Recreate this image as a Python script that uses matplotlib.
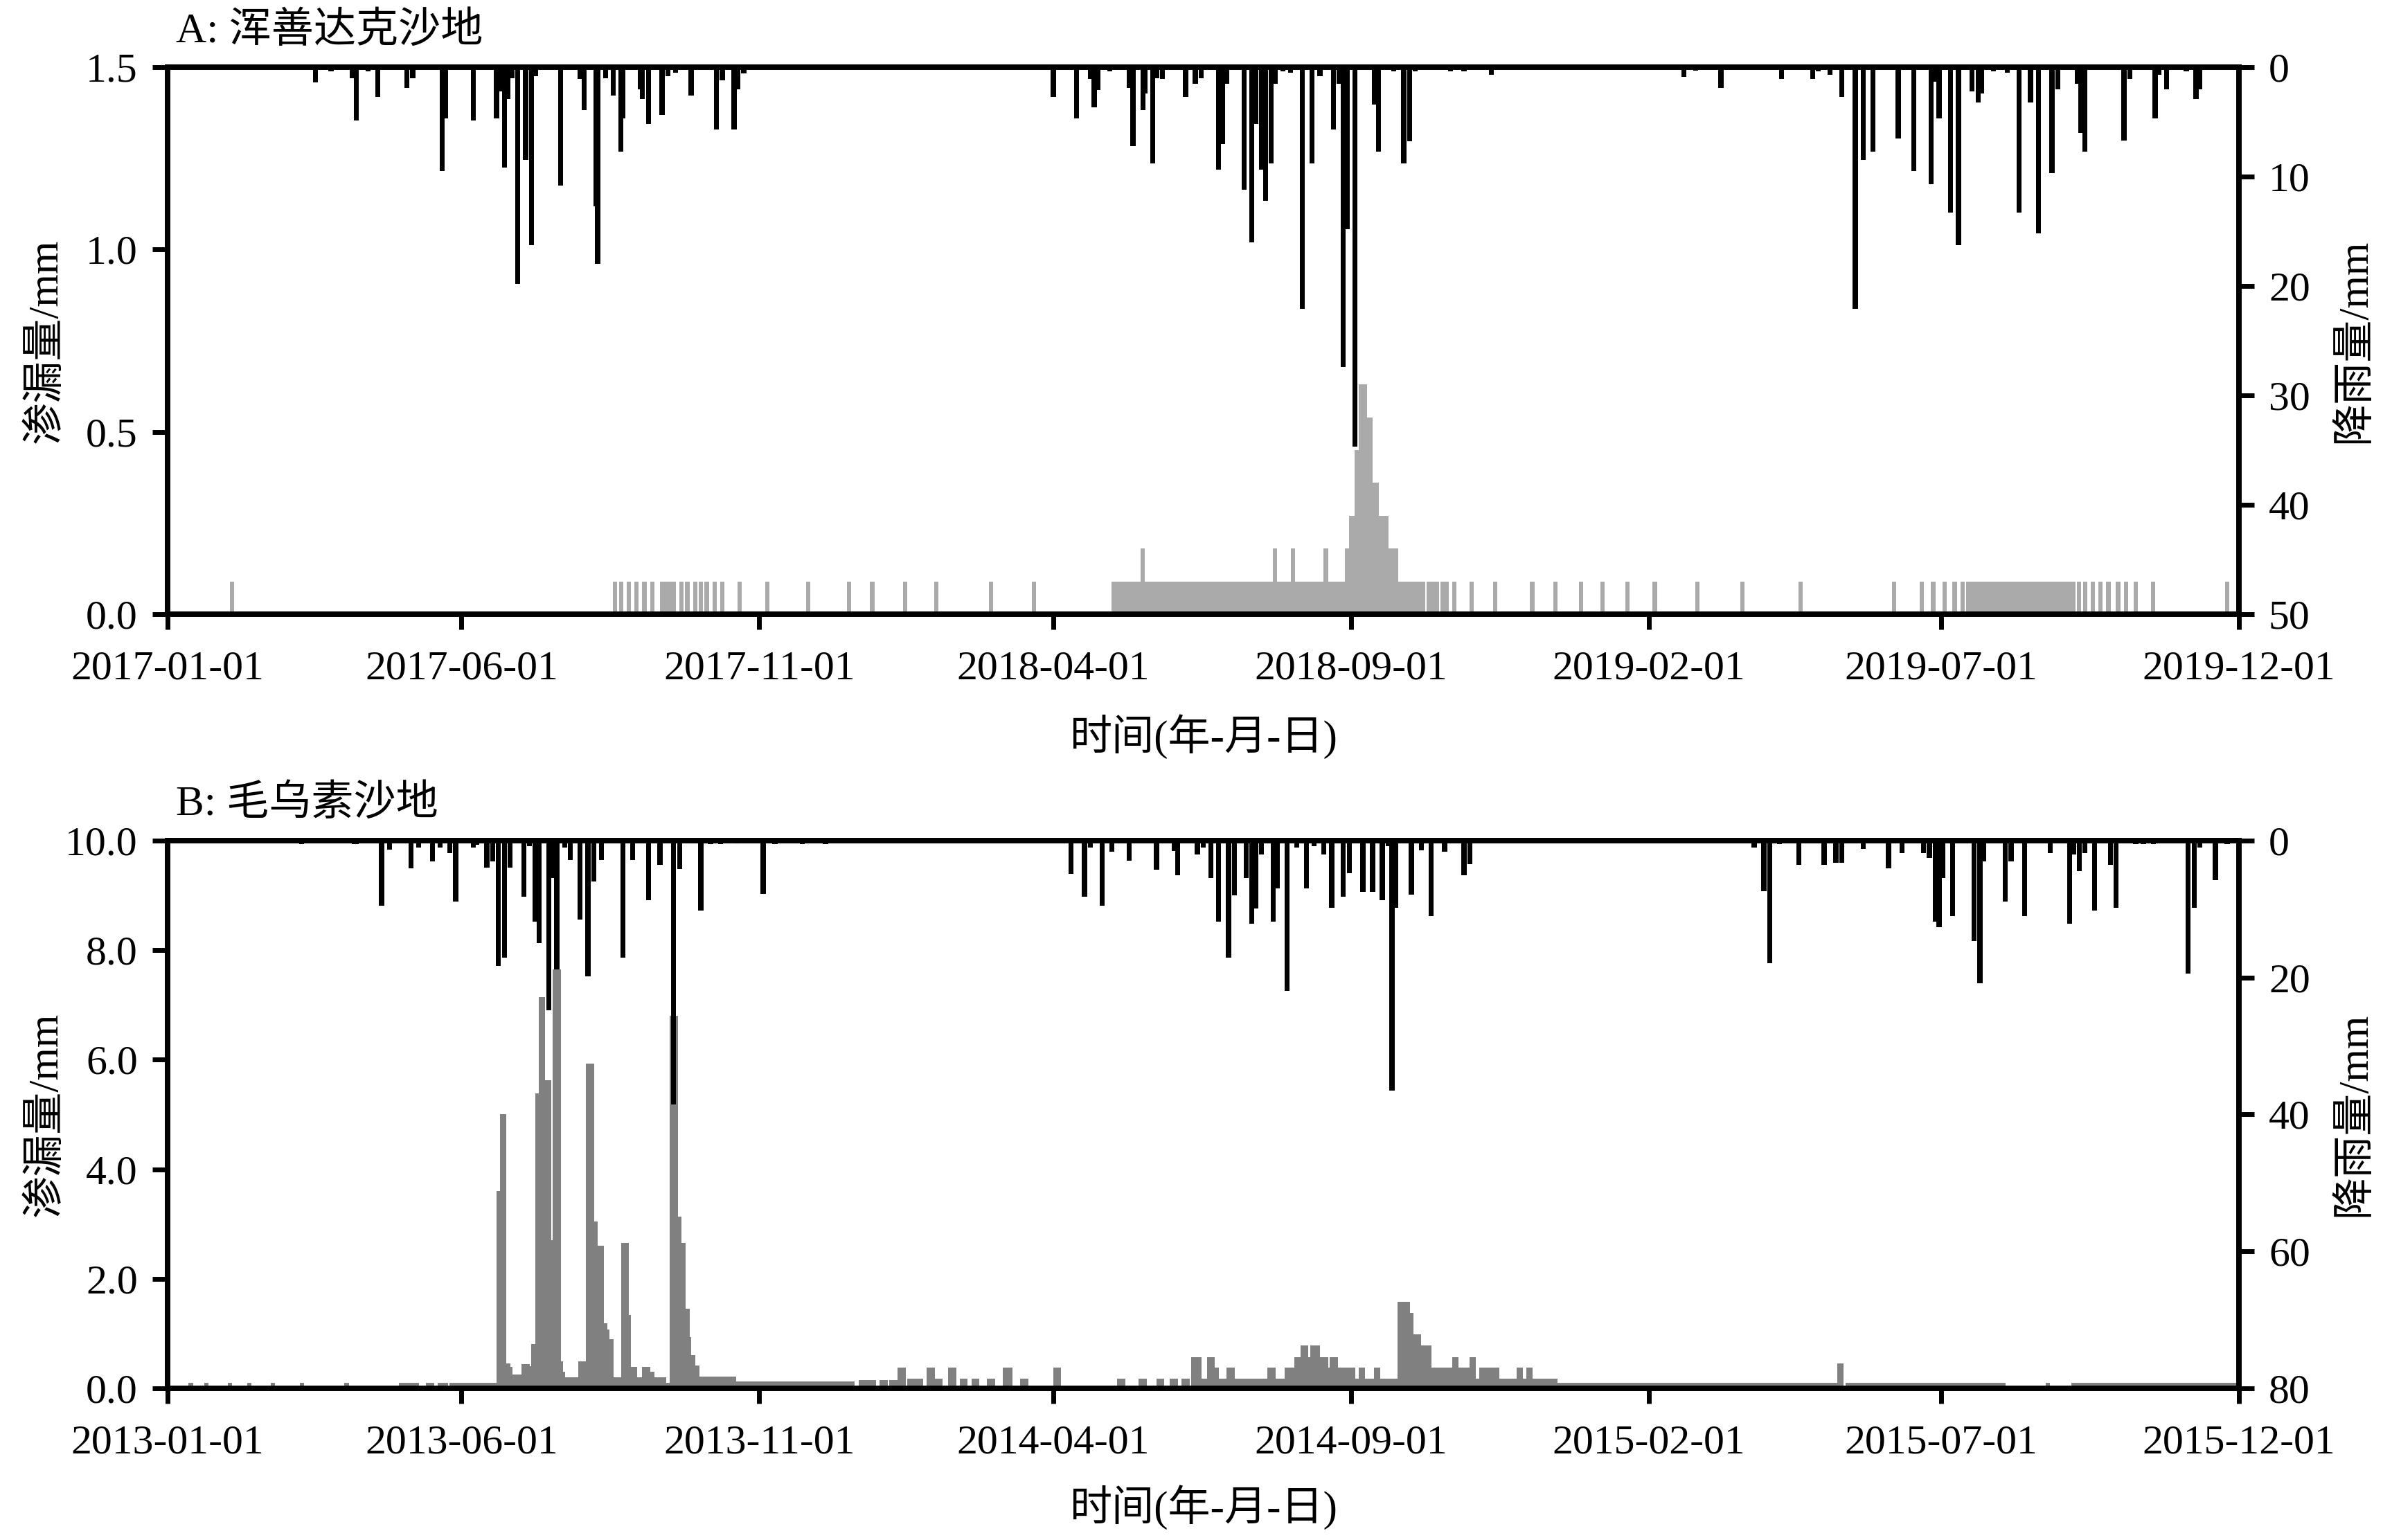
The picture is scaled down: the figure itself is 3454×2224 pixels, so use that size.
import matplotlib
matplotlib.use("Agg")
import matplotlib.pyplot as plt
import matplotlib.dates as mdates
import numpy as np

plt.rcParams['font.family'] = ['Liberation Serif', 'Noto Sans CJK SC']
plt.rcParams['axes.unicode_minus'] = False

FS_TICK = 43
FS_LABEL = 44

# ---- panel A: 浑善达克沙地, day offsets counted from 2017-01-01 ----
start_a = '2017-01-01'
xticks_a = ['2017-01-01', '2017-06-01', '2017-11-01', '2018-04-01',
            '2018-09-01', '2019-02-01', '2019-07-01', '2019-12-01']

# (day, rainfall mm)
rain_a = [
    (76, 1.4), (84, 0.4), (95, 1.0), (97, 4.9), (103, 0.4), (108, 2.7), (123, 1.9), (126, 1.0),
    (141, 9.5), (143, 4.7), (157, 4.9), (169, 4.7), (171, 2.2), (173, 9.2), (175, 2.9), (177, 1.0),
    (180, 19.8), (184, 8.5), (187, 16.3), (189, 0.8), (202, 10.8), (212, 1.1), (214, 3.9),
    (220, 12.7), (221, 18.0), (225, 1.0), (229, 2.6), (233, 7.7), (234, 4.7), (243, 2.0),
    (244, 2.9), (247, 5.2), (254, 4.4), (257, 0.8), (261, 0.5), (269, 2.6), (282, 5.7),
    (285, 1.2), (291, 5.7), (293, 2.0), (296, 0.6),
    (455, 2.7), (467, 4.7), (474, 1.1), (476, 3.7), (478, 2.1), (484, 0.4), (494, 1.9),
    (496, 7.2), (501, 3.9), (502, 2.4), (506, 8.8), (508, 1.0), (511, 1.1), (523, 2.7),
    (528, 1.5), (531, 1.0), (540, 9.4), (542, 7.0), (544, 1.5), (553, 11.2), (557, 16.0),
    (559, 5.2), (562, 9.4), (564, 12.2), (567, 8.8), (569, 1.5), (573, 0.4), (577, 0.5),
    (583, 22.1), (588, 8.8), (592, 0.8), (599, 5.7), (602, 1.5), (604, 27.4), (606, 14.8),
    (610, 34.7), (620, 3.4), (622, 7.7), (630, 0.4), (635, 8.8), (638, 6.8), (641, 0.4),
    (659, 0.4), (666, 0.4), (680, 0.7),
    (779, 0.9), (785, 0.3), (798, 1.9), (829, 1.1), (845, 1.1), (848, 0.4), (854, 0.7),
    (860, 2.7), (867, 22.1), (871, 8.5), (876, 7.7), (889, 6.5), (897, 9.5), (906, 10.7),
    (908, 1.3), (910, 4.7), (916, 13.3), (920, 16.3), (927, 2.2), (930, 3.2), (932, 2.4),
    (938, 0.4), (945, 0.5), (951, 13.3), (957, 3.2), (961, 15.2), (968, 9.7), (971, 2.0),
    (981, 1.5), (983, 6.0), (985, 7.7), (1005, 6.7), (1008, 1.1), (1021, 4.7), (1023, 0.7),
    (1027, 2.0), (1037, 0.4), (1042, 2.9), (1044, 2.0),
]

# (first day, last day, percolation mm)
perc_a = [
    (33, 33, .09), (230, 230, .09), (233, 233, .09), (237, 237, .09), (241, 241, .09),
    (245, 245, .09), (249, 249, .09), (254, 260, .09), (264, 264, .09), (267, 267, .09),
    (271, 271, .09), (274, 274, .09), (277, 277, .09), (281, 281, .09), (285, 285, .09),
    (294, 294, .09), (308, 308, .09), (329, 329, .09), (350, 350, .09), (362, 362, .09),
    (379, 379, .09), (395, 395, .09), (423, 423, .09), (445, 445, .09),
    (486, 500, .09), (501, 501, .18), (502, 568, .09), (569, 569, .18), (570, 577, .09),
    (578, 578, .18), (579, 594, .09), (595, 595, .18), (596, 605, .09),
    (606, 607, .18), (608, 610, .27), (611, 612, .45), (613, 615, .63), (616, 618, .54),
    (619, 621, .36), (622, 626, .27), (627, 631, .18), (632, 645, .09),
    (648, 652, .09), (655, 655, .09), (657, 657, .09), (661, 661, .09), (670, 670, .09),
    (682, 682, .09), (701, 701, .09), (713, 713, .09), (726, 726, .09), (737, 737, .09),
    (750, 750, .09), (764, 764, .09), (786, 786, .09), (809, 809, .09), (839, 839, .09),
    (887, 887, .09), (901, 901, .09), (907, 907, .09), (913, 913, .09), (918, 918, .09),
    (922, 922, .09), (925, 979, .09), (982, 982, .09), (985, 985, .09), (989, 989, .09),
    (993, 993, .09), (997, 997, .09), (1002, 1002, .09), (1006, 1006, .09),
    (1011, 1011, .09), (1020, 1020, .09), (1058, 1058, .09),
]

# ---- panel B: 毛乌素沙地, day offsets counted from 2013-01-01 ----
start_b = '2013-01-01'
xticks_b = ['2013-01-01', '2013-06-01', '2013-11-01', '2014-04-01',
            '2014-09-01', '2015-02-01', '2015-07-01', '2015-12-01']

rain_b = [
    (69, 0.5), (96, 0.5), (97, 0.5), (110, 9.5), (114, 1.3), (125, 4.1), (129, 1.0),
    (136, 3.0), (140, 1.0), (145, 1.8), (148, 8.9), (157, 1.0), (159, 0.6), (164, 4.0),
    (167, 3.0), (170, 18.3), (173, 17.1), (176, 4.0), (183, 8.2), (186, 0.8), (189, 11.8),
    (191, 15.0), (196, 24.8), (198, 5.5), (200, 18.8), (204, 1.0), (207, 2.8), (212, 11.5),
    (216, 19.8), (219, 6.0), (223, 2.8), (234, 17.1), (239, 2.8), (247, 8.7), (253, 3.6),
    (260, 38.5), (263, 4.2), (274, 10.2), (279, 0.5), (284, 0.5), (292, 0.4), (306, 7.8),
    (312, 0.5), (326, 0.5), (338, 0.5),
    (464, 4.9), (471, 8.2), (474, 1.0), (480, 9.5), (485, 1.6), (494, 2.9), (508, 4.3),
    (517, 1.5), (519, 5.1), (529, 2.0), (532, 1.0), (536, 5.5), (540, 11.8), (545, 17.1),
    (548, 8.0), (554, 5.5), (557, 12.2), (559, 9.9), (562, 2.0), (568, 11.8), (570, 7.0),
    (575, 22.0), (580, 1.0), (585, 7.0), (589, 0.8), (594, 2.0), (598, 9.8), (604, 8.2),
    (607, 4.8), (614, 7.5), (619, 7.5), (624, 8.7), (627, 0.8), (629, 36.5), (631, 9.8),
    (639, 7.9), (644, 1.4), (649, 11.0), (656, 1.6), (666, 5.1), (669, 3.5),
    (815, 1.0), (820, 7.4), (823, 17.9), (828, 0.5), (838, 3.6), (851, 3.6), (857, 3.2),
    (860, 3.2), (871, 1.2), (884, 4.1), (891, 1.8), (902, 1.8), (905, 2.5), (908, 11.8),
    (910, 12.7), (912, 5.5), (917, 11.0), (928, 14.7), (931, 20.8), (933, 3.0), (944, 8.9),
    (947, 3.0), (954, 11.0), (967, 1.8), (977, 12.2), (979, 2.0), (982, 4.5), (985, 1.8),
    (990, 10.2), (998, 3.6), (1001, 9.8), (1011, 0.5), (1015, 0.5), (1020, 0.5),
    (1038, 19.4), (1041, 9.8), (1044, 1.0), (1052, 5.8), (1058, 0.5),
]

perc_b = [
    (12, 12, .1), (20, 20, .1), (32, 32, .1), (42, 42, .1), (54, 54, .1), (69, 69, .1),
    (92, 92, .1), (120, 123, .1), (125, 128, .1), (134, 136, .1), (140, 143, .1),
    (146, 149, .1), (151, 169, .1),
    (170, 171, 3.6), (172, 173, 5.0), (174, 175, .45), (176, 176, .39), (177, 182, .25),
    (183, 185, .44), (186, 187, .41), (188, 189, .81), (190, 191, 5.38), (192, 193, 7.14),
    (194, 196, 5.63), (197, 198, 2.71), (199, 201, 7.65), (202, 202, .49), (203, 203, .3),
    (204, 211, .2), (212, 214, .49), (215, 215, .4), (216, 218, 5.93), (219, 220, 3.05),
    (221, 223, 2.6), (224, 225, 1.19), (226, 226, 1.07), (227, 228, .9), (229, 233, .2),
    (234, 236, 2.65), (237, 237, 1.34), (238, 240, .39), (241, 244, .2), (245, 247, .39),
    (248, 249, .3), (250, 255, .2), (256, 258, .1), (259, 261, 6.8), (262, 263, 3.14),
    (264, 265, 2.65), (266, 267, 1.45), (268, 268, .93), (269, 270, .6), (271, 272, .42),
    (273, 291, .22), (292, 345, .13),
    (347, 352, .12), (356, 363, .15), (367, 369, .15), (372, 374, .15), (376, 378, .38),
    (381, 387, .18), (391, 393, .38), (394, 397, .18), (402, 404, .38), (408, 410, .18),
    (414, 416, .18), (422, 424, .18), (430, 433, .38), (439, 441, .18), (456, 458, .38),
    (489, 491, .18), (500, 502, .18), (509, 511, .18), (516, 518, .18), (522, 524, .18),
    (527, 530, .57), (531, 534, .18), (535, 537, .57), (538, 539, .38), (540, 544, .18),
    (545, 547, .38), (548, 565, .18), (566, 568, .38), (569, 574, .18), (575, 579, .38),
    (580, 582, .57), (583, 585, .78), (586, 587, .57), (588, 591, .78), (592, 595, .57),
    (596, 597, .38), (598, 600, .57), (601, 609, .38), (610, 612, .18), (613, 614, .38),
    (615, 620, .18), (621, 622, .38), (623, 632, .18), (633, 637, 1.58), (638, 639, 1.38),
    (640, 643, .99), (644, 648, .78), (649, 660, .38), (661, 662, .57), (663, 669, .38),
    (670, 671, .57), (672, 674, .18), (675, 683, .38), (684, 693, .18), (694, 695, .38),
    (696, 698, .18), (699, 700, .38), (701, 713, .18),
    (714, 857, .1), (859, 860, .45), (863, 943, .1), (966, 966, .1), (979, 1063, .1),
]


def runs_to_days(runs):
    days, vals = [], []
    for first, last, v in runs:
        for d in range(first, last + 1):
            days.append(d)
            vals.append(v)
    return np.array(days), np.array(vals)


def draw_panel(ax, start, xticks, rain, perc, perc_color, lmax, lticks, rmax, rticks,
               title, xlabel_y):
    t0 = mdates.datestr2num(start)
    pd_, pv = runs_to_days(perc)
    ax.bar(t0 + pd_, pv, width=2.2, color=perc_color, linewidth=0)
    ax.set_ylim(0, lmax)
    ax.set_yticks(lticks)
    ax.set_yticklabels(['%.1f' % v for v in lticks])

    tick_nums = mdates.datestr2num(xticks)
    ax.set_xlim(tick_nums[0], tick_nums[-1])
    ax.set_xticks(tick_nums)
    ax.set_xticklabels(xticks)

    ax2 = ax.twinx()
    rd = np.array([r[0] for r in rain])
    rv = np.array([r[1] for r in rain])
    ax2.bar(t0 + rd, rv, width=2.6, color='black', linewidth=0)
    ax2.set_ylim(rmax, 0)
    ax2.set_yticks(rticks)
    ax2.set_yticklabels([str(v) for v in rticks])
    ax2.set_xlim(tick_nums[0], tick_nums[-1])

    for a in (ax, ax2):
        for s in a.spines.values():
            s.set_linewidth(5.5)
        a.tick_params(direction='out', length=16, width=5, pad=15, labelsize=FS_TICK)
    ax.tick_params(axis='x', pad=22)

    ax.set_ylabel('渗漏量/mm', fontsize=FS_LABEL, ha='center', va='center')
    ax.yaxis.set_label_coords(-0.0588, 0.5)
    ax2.set_ylabel('降雨量/mm', fontsize=FS_LABEL, ha='center', va='center', rotation=90)
    ax2.yaxis.set_label_coords(1.0558, 0.5)
    ax.set_xlabel('时间(年-月-日)', fontsize=FS_LABEL, va='center')
    ax.xaxis.set_label_coords(0.5, xlabel_y)
    ax.text(0.004, 1.066, title, transform=ax.transAxes, fontsize=FS_LABEL,
            va='center', ha='left')


fig = plt.figure(figsize=(34.55, 22.24), dpi=100)
ax_a = fig.add_axes([0.0700, 0.6012, 0.8657, 0.3552])
ax_b = fig.add_axes([0.0700, 0.0985, 0.8657, 0.3557])

draw_panel(ax_a, start_a, xticks_a, rain_a, perc_a, '#aaaaaa',
           1.5, [0.0, 0.5, 1.0, 1.5], 50, [0, 10, 20, 30, 40, 50],
           'A: 浑善达克沙地', -0.224)
draw_panel(ax_b, start_b, xticks_b, rain_b, perc_b, '#808080',
           10.0, [0.0, 2.0, 4.0, 6.0, 8.0, 10.0], 80, [0, 20, 40, 60, 80],
           'B: 毛乌素沙地', -0.2175)

fig.savefig('out.png', dpi=100, facecolor='white')
